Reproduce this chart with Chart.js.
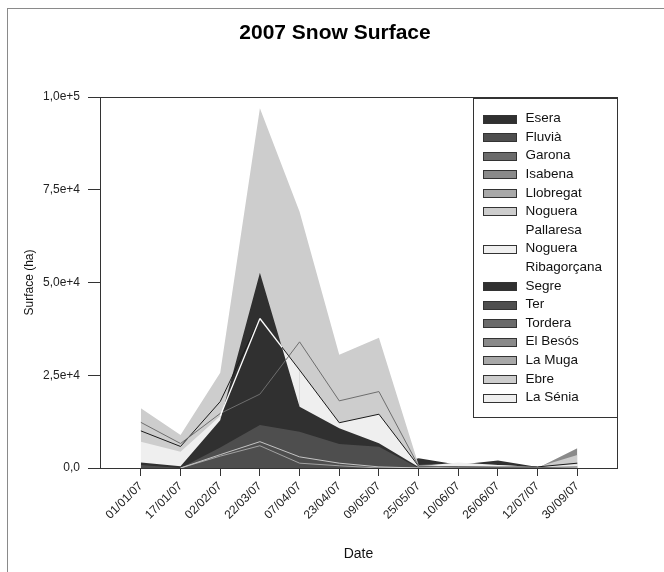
<!DOCTYPE html>
<html>
<head>
<meta charset="utf-8">
<script src="https://cdn.jsdelivr.net/npm/chart.js@4.4.1/dist/chart.umd.min.js"></script>
<style>
  html, body { margin: 0; padding: 0; background: #fff; }
  #frame { position: absolute; left: 7px; top: 8px; width: 700px; height: 620px; border: 1px solid #8a8a8a; }
  #c { position: absolute; left: 0; top: 0; }
</style>
</head>
<body>
<div id="frame"></div>
<canvas id="c" width="664" height="572"></canvas>
<script>
// Dates on the x axis
const dates = ['01/01/07', '17/01/07', '02/02/07', '22/03/07', '07/04/07', '23/04/07',
  '09/05/07', '25/05/07', '10/06/07', '26/06/07', '12/07/07', '30/09/07'];

// Snow surface per basin (ha)
const esera     = [0, 0, 0, 0, 0, 0, 0, 2600, 900, 2000, 300, 0];
const fluvia    = [0, 0, 0, 0, 0, 0, 0, 0, 0, 0, 0, 0];
const garona    = [12300, 6600, 14700, 19900, 34000, 18100, 20600, 500, 300, 200, 100, 300];
const isabena   = [0, 0, 0, 0, 0, 0, 0, 0, 0, 0, 0, 5300];
const llobregat = [null, 0, 3200, 6000, 1300, 600, 0, 0, 0, 0, 0, 0];
const noguPal   = [16100, 8900, 25700, 97000, 69100, 30500, 35100, 800, 1000, 800, 300, 3500];
const noguRib   = [7100, 4400, 14000, 40300, 26400, 12200, 14500, 500, 1500, 800, 300, 1000];
const segre     = [1500, 500, 12900, 52600, 16500, 10700, 6700, 300, 0, 0, 0, 0];
const ter       = [800, 0, 5500, 11600, 9800, 6500, 5700, 0, 0, 0, 0, 0];
const tordera   = [0, 0, 0, 0, 0, 0, 0, 0, 0, 0, 0, 0];
const besos     = [0, 0, 0, 0, 0, 0, 0, 0, 0, 0, 0, 0];
const laMuga    = [null, 0, 3600, 7100, 3000, 1300, 300, 0, 0, 0, 0, 0];
const ebre      = [10000, 5800, 17900, 40300, 26400, 12200, 14500, 500, 300, 200, 300, 1300];
const senia     = [0, 0, 0, 0, 0, 0, 0, 0, 0, 0, 0, 0];

const seriesNames = ['Esera', 'Fluvià', 'Garona', 'Isabena', 'Llobregat', 'Noguera Pallaresa',
  'Noguera Ribagorçana', 'Segre', 'Ter', 'Tordera', 'El Besós', 'La Muga', 'Ebre', 'La Sénia'];
const seriesValues = [esera, fluvia, garona, isabena, llobregat, noguPal,
  noguRib, segre, ter, tordera, besos, laMuga, ebre, senia];

// Y axis ticks
const yTickValues = [0, 25000, 50000, 75000, 100000];
const yTickLabels = ['0,0', '2,5e+4', '5,0e+4', '7,5e+4', '1,0e+5'];

const palette = ['#303030', '#4e4e4e', '#6b6b6b', '#8a8a8a', '#a8a8a8', '#cdcdcd', '#efefef'];
const FONT = '"Liberation Sans", Arial, sans-serif';
const TITLE = '2007 Snow Surface';
const canvasCtx = document.getElementById('c').getContext('2d');

// White outline of Noguera Ribagorçana, only visible where it runs over the Segre area
function ribSegmentColor(ctx) {
  const i = ctx.p0DataIndex;
  if (i === 2) return '#ffffff';
  if (i === 3) {
    const t = (segre[3] - noguRib[3]) / ((segre[3] - segre[4]) - (noguRib[3] - noguRib[4]));
    const g = canvasCtx.createLinearGradient(ctx.p0.x, 0, ctx.p1.x, 0);
    g.addColorStop(0, '#ffffff');
    g.addColorStop(t, '#ffffff');
    g.addColorStop(Math.min(1, t + 0.01), 'rgba(255,255,255,0)');
    g.addColorStop(1, 'rgba(255,255,255,0)');
    return g;
  }
  return 'rgba(0,0,0,0)';
}

// Drawing depth (higher = further back) and outlines
const seriesStyle = {
  'Ter': { order: 1 },
  'Segre': { order: 2 },
  'Noguera Ribagorçana': { order: 3, borderColor: '#ffffff', borderWidth: 1.3, segment: { borderColor: ribSegmentColor } },
  'Noguera Pallaresa': { order: 4 },
  'Esera': { order: 5 },
  'Isabena': { order: 6 },
  'Garona': { order: 7, borderColor: '#6e6e6e', borderWidth: 1 },
  'Ebre': { order: 8, borderColor: '#1a1a1a', borderWidth: 1 },
  'La Muga': { order: 9, borderColor: '#c4c4c4', borderWidth: 1 },
  'Llobregat': { order: 10, borderColor: '#a2a2a2', borderWidth: 1 }
};

const datasets = seriesNames.map((name, i) => {
  const st = seriesStyle[name] || { order: 11 };
  return {
    label: name,
    data: seriesValues[i].map((v, j) => ({ x: j, y: v })),
    backgroundColor: palette[i % palette.length],
    borderColor: st.borderColor || palette[i % palette.length],
    borderWidth: st.borderWidth || 0,
    segment: st.segment,
    order: st.order,
    fill: 'origin',
    pointRadius: 0,
    tension: 0
  };
});

// Word wrap for legend labels
function wrapText(ctx, text, maxWidth) {
  const words = text.split(' ');
  const lines = [];
  let cur = '';
  words.forEach(w => {
    const test = cur ? cur + ' ' + w : w;
    if (cur && ctx.measureText(test).width > maxWidth) {
      lines.push(cur);
      cur = w;
    } else {
      cur = test;
    }
  });
  if (cur) lines.push(cur);
  return lines;
}

// Title, plot frame and boxed legend in the top right corner
const framePlugin = {
  id: 'frameAndLegend',
  afterDatasetsDraw(chart) {
    const { ctx, chartArea } = chart;
    ctx.save();
    ctx.fillStyle = '#000';
    ctx.font = 'bold 21px ' + FONT;
    ctx.textAlign = 'center';
    ctx.textBaseline = 'middle';
    ctx.fillText(TITLE, chart.width / 2 + 3, 33);
    ctx.textAlign = 'left';

    ctx.strokeStyle = '#333';
    ctx.lineWidth = 1;
    ctx.strokeRect(Math.round(chartArea.left) + 0.5, Math.round(chartArea.top) + 0.5,
      Math.round(chartArea.right - chartArea.left), Math.round(chartArea.bottom - chartArea.top));

    ctx.font = '13.5px ' + FONT;
    const boxW = 144, lineH = 18.6, padY = 10.7;
    const right = Math.round(chartArea.right) + 0.5;
    const top = Math.round(chartArea.top) + 1.5;
    const left = right - boxW;
    const textX = left + 52;
    const rows = chart.data.datasets.map(ds => ({ ds, lines: wrapText(ctx, ds.label, right - textX - 4) }));
    const nLines = rows.reduce((s, r) => s + r.lines.length, 0);
    const boxH = padY * 2 + nLines * lineH;

    ctx.fillStyle = '#fff';
    ctx.fillRect(left, top, boxW, boxH);
    ctx.strokeStyle = '#333';
    ctx.strokeRect(left, top, boxW, boxH);

    let y = top + padY + lineH / 2;
    rows.forEach(r => {
      ctx.fillStyle = r.ds.backgroundColor;
      ctx.fillRect(left + 10, Math.round(y - 4) + 0.5, 33, 8);
      ctx.strokeStyle = '#333';
      ctx.strokeRect(left + 10, Math.round(y - 4) + 0.5, 33, 8);
      ctx.fillStyle = '#111';
      r.lines.forEach(line => {
        ctx.fillText(line, textX, y);
        y += lineH;
      });
    });
    ctx.restore();
  }
};

new Chart(document.getElementById('c'), {
  type: 'line',
  data: { datasets },
  plugins: [framePlugin],
  options: {
    responsive: false,
    animation: false,
    devicePixelRatio: 1,
    layout: { padding: { right: 47, left: 0, top: 97, bottom: 0 } },
    plugins: {
      legend: { display: false },
      tooltip: { enabled: false },
      filler: { drawTime: 'beforeDatasetsDraw' },
      title: { display: false }
    },
    scales: {
      x: {
        type: 'linear',
        min: -1.03,
        max: 12,
        afterBuildTicks: s => { s.ticks = dates.map((d, i) => ({ value: i })); },
        afterFit: s => { s.height = 104; },
        border: { display: false },
        grid: { drawOnChartArea: false, drawTicks: true, tickLength: 8, color: '#333' },
        ticks: {
          autoSkip: false,
          minRotation: 45,
          maxRotation: 45,
          padding: 3,
          color: '#222',
          font: { family: FONT, size: 12 },
          callback: v => dates[v]
        },
        title: {
          display: true,
          text: 'Date',
          color: '#111',
          font: { family: FONT, size: 14 },
          padding: { bottom: 9, top: 0 }
        }
      },
      y: {
        min: 0,
        max: 100000,
        afterBuildTicks: s => { s.ticks = yTickValues.map(v => ({ value: v })); },
        afterFit: s => { s.width = 100; },
        border: { display: false },
        grid: { drawOnChartArea: false, drawTicks: true, tickLength: 12, color: '#333' },
        ticks: {
          padding: 8,
          color: '#222',
          font: { family: FONT, size: 12 },
          callback: (v, i) => yTickLabels[i]
        },
        title: {
          display: true,
          text: 'Surface (ha)',
          color: '#111',
          font: { family: FONT, size: 12 },
          padding: { top: 22, bottom: 0 }
        }
      }
    }
  }
});
</script>
</body>
</html>
